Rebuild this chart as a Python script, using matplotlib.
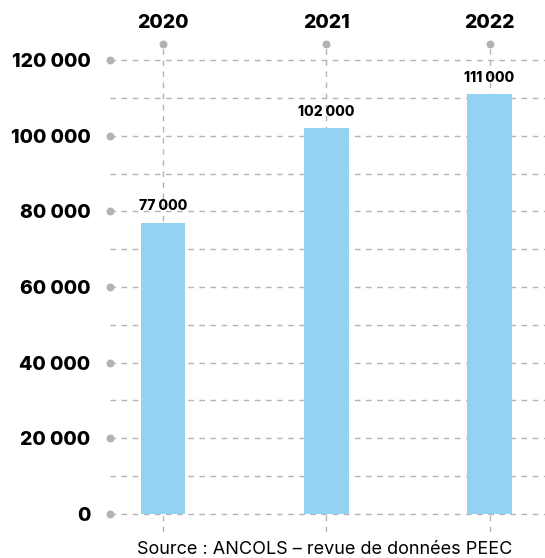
import matplotlib
matplotlib.use('Agg')
import matplotlib.pyplot as plt

years = ['2020', '2021', '2022']
values = [77000, 102000, 111000]
value_labels = ['77 000', '102 000', '111 000']
major_ticks = [0, 20000, 40000, 60000, 80000, 100000, 120000]
minor_ticks = [10000, 30000, 50000, 70000, 90000, 110000]

bar_color = '#93d3f1'
grey = '#b3b3b3'
font = ['Inter', 'DejaVu Sans']

fig = plt.figure(figsize=(5.45, 5.58), dpi=100)
ax = fig.add_axes([110 / 545, 1 - 532 / 558, 435 / 545, 488 / 558])

x = list(range(len(years)))
ax.set_xlim(-0.325, 2.34)
ax.set_ylim(-4800, 124300)

# dashed grid lines
for t in major_ticks + minor_ticks:
    ax.axhline(t, color=grey, lw=1, ls=(0, (4, 4)), zorder=0)
for xi in x:
    ax.axvline(xi, color=grey, lw=1, ls=(0, (4, 4)), zorder=0)

ax.bar(x, values, width=0.275, color=bar_color, zorder=2)

for xi, v, lab in zip(x, values, value_labels):
    ax.annotate(lab, (xi, v), xytext=(0, 7), textcoords='offset points',
                ha='center', va='bottom', fontsize=10, fontweight='heavy',
                family=font, zorder=3)

# dots at line ends
ax.scatter([-0.325] * len(major_ticks), major_ticks, s=22, color=grey,
           clip_on=False, zorder=3)
ax.scatter(x, [124300] * len(x), s=22, color=grey, clip_on=False, zorder=3)

ax.set_yticks(major_ticks)
ax.set_yticklabels([f'{t:,}'.replace(',', ' ') for t in major_ticks],
                   fontsize=14, fontweight='heavy', family=font)
ax.tick_params(axis='y', length=0, pad=14)
ax.set_xticks([])

for xi, yr in zip(x, years):
    ax.annotate(yr, (xi, 124300), xytext=(0, 9), textcoords='offset points',
                ha='center', va='bottom', fontsize=14, fontweight='heavy',
                family=font, annotation_clip=False)

for s in ax.spines.values():
    s.set_visible(False)

fig.text(325 / 545, 1 - 549 / 558, 'Source : ANCOLS – revue de données PEEC',
         ha='center', va='center', fontsize=13, family=font)

plt.savefig('out.png', dpi=100)
